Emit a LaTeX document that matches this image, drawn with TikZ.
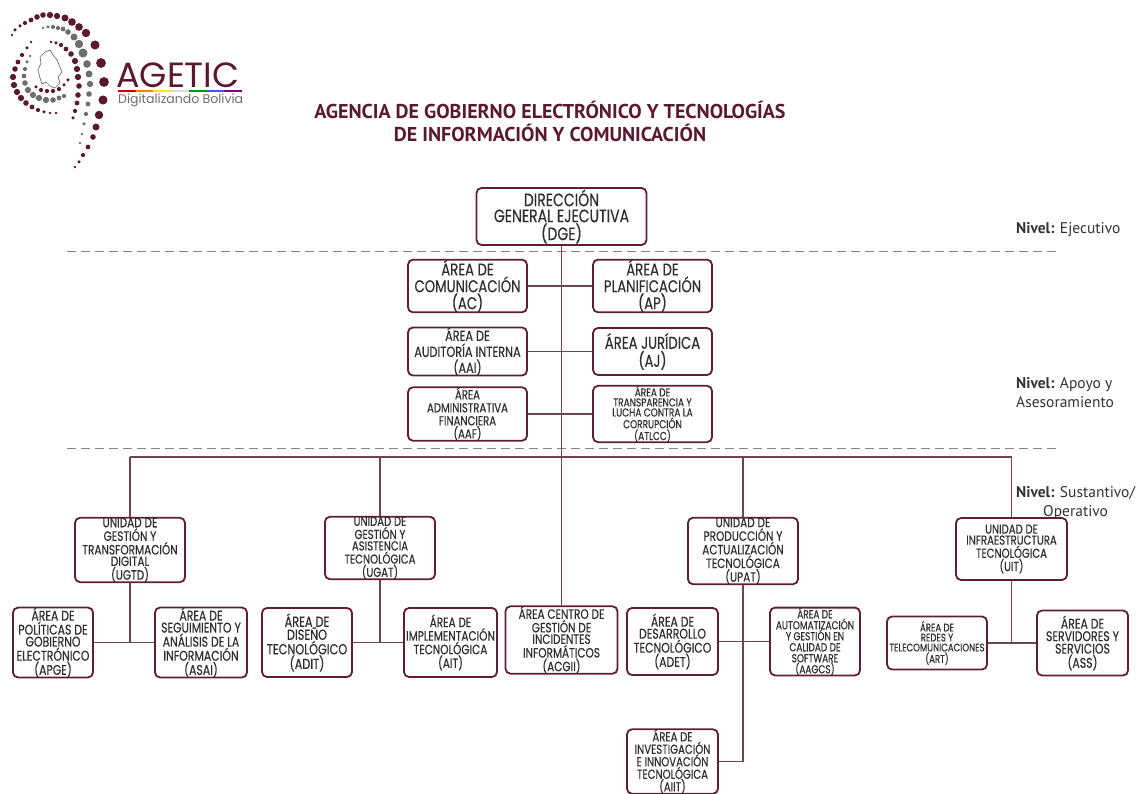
\documentclass[tikz,border=0pt]{standalone}
\usepackage{fontspec}
\setmainfont{PT Sans}
\newfontfamily\boxfont[FakeStretch=0.78, FakeBold=0.3]{Poppins}
\newfontfamily\logofont{Poppins}

\definecolor{agred}{HTML}{5B1A2C}
\definecolor{boxline}{HTML}{5E1F30}
\definecolor{linkcol}{HTML}{6F4350}
\definecolor{boxtext}{HTML}{2E2E2E}
\definecolor{dashgray}{HTML}{858585}
\definecolor{logogray}{HTML}{6E6E6E}
\definecolor{nivelcol}{HTML}{333333}

\begin{document}
\begin{tikzpicture}[x=1pt, y=-1pt,
    box/.style={draw=boxline, line width=1.8pt, rounded corners=5pt, fill=white,
                text=boxtext, align=center, inner sep=0pt},
    sz/.style 2 args={minimum width=#1pt, minimum height=#2pt},
    fs/.style 2 args={font=\boxfont\fontsize{#1}{#2}\selectfont},
    link/.style={draw=linkcol, line width=1.1pt},
    sep/.style={draw=dashgray, line width=1pt, dash pattern=on 9pt off 5pt},
    nivel/.style={text=nivelcol, inner sep=0pt, font=\fontsize{15.5}{19}\selectfont}]

    \useasboundingbox (0,0) rectangle (1140,794);
    \fill[white] (0,0) rectangle (1140,794);

    % Logo: dotted spiral
    \foreach \x/\y/\d in {12/35/2, 15/30/2.5, 20/26/2.5, 25/23/3, 31/20/3.5, 37/17/4, 43/15/4,
        50/15/4.5, 57/16/4.5, 65/18/5, 72/22/5.5, 79/27/5.5, 86/33/6, 95/45/6.5, 101/63/7,
        104/82/7, 103/100/6.5, 99/115/6, 96/127/5, 93/137/4, 88/147/3.5, 83/155/3, 79/162/2.5, 75/167/2}
        \fill[agred] (\x,\y) circle[radius=0.7*\d];
    \foreach \x/\y/\d in {43/28/2, 48/27/2.5, 53/27/3, 58/28/3, 63/29/3.5, 68/32/4, 74/37/5, 79/44/6,
        83/53/6.5, 87/64/5.5, 89/74/5, 90/84/4.5, 89/94/4, 88/104/3.5, 86/114/3, 84/124/2.5, 82/134/2, 80/143/2}
        \fill[logogray] (\x,\y) circle[radius=0.7*\d];
    \foreach \x/\y/\d in {51/42/2, 56/43/2.5, 61/45/3, 66/49/3.5, 71/54/4, 75/61/4.5, 77/69/4.5,
        78/77/4.5, 79/86/4, 78/95/4, 77/103/3.5, 75/111/3, 73/118/2.5}
        \fill[agred] (\x,\y) circle[radius=0.7*\d];
    \foreach \x/\y/\d in {31/42/2, 27/48/2.5, 22/55/3, 18/62/3.5, 15/69/4, 13/77/4.5, 14/85/4.5,
        17/92/4.5, 21/98/4.5, 26/103/4, 32/107/3.5, 38/110/3, 44/112/2.5, 50/113/2, 56/113/2}
        \fill[agred] (\x,\y) circle[radius=0.7*\d];
    \foreach \x/\y/\d in {30/56/2, 27/62/2.5, 25/69/3, 24/76/3.5, 25/83/4, 28/90/4.5, 33/95/4.5,
        39/98/4.5, 46/100/4.5, 53/100/4, 59/98/3.5, 64/96/3}
        \fill[logogray] (\x,\y) circle[radius=0.7*\d];
    \foreach \x/\y/\d in {36/87/2.5, 41/90/3, 47/91/3, 53/91/3, 59/89/3, 64/85/2.5, 68/80/2.5}
        \fill[agred] (\x,\y) circle[radius=0.7*\d];
    % map of Bolivia
    \draw[logogray, line width=0.7pt] (45,52) -- (50,50) -- (53,55) -- (57,60) -- (60,67) -- (62,72)
        -- (58,77) -- (60,83) -- (55,88) -- (50,86) -- (46,82) -- (42,84) -- (40,78) -- (38,70)
        -- (41,63) -- (40,57) -- cycle;

    % Logo text
    \node[anchor=base west, inner sep=0pt, text depth=0pt, text=agred, font=\logofont\fontsize{35}{35}\selectfont] (agetic) at (116,88) {AGETIC};
    \foreach \c [count=\i] in {red!80!black, orange, yellow!90!orange, gray!30, green!60!black, blue!70, violet}
        \fill[\c] (118+17.7*\i-17.7,90) rectangle (118+17.7*\i,92);
    \node[anchor=base west, inner sep=0pt, text height=9pt, text depth=2pt, text=logogray, font=\logofont\fontsize{12.5}{13}\selectfont] (slogan) at (118,104) {Digitalizando Bolivia};

    % Title
    \node[align=center, text=agred, font=\bfseries\fontsize{20}{23}\selectfont] (title) at (550,121.5)
        {AGENCIA DE GOBIERNO ELECTRÓNICO Y TECNOLOGÍAS\\DE INFORMACIÓN Y COMUNICACIÓN};

    % Level separators
    \draw[sep] (67,252) -- (1057,252);
    \draw[sep] (67,448) -- (1057,448);

    % Level labels
    \node[nivel, anchor=west] (lvEje) at (1016,230) {\textbf{Nivel:} Ejecutivo};
    \node[nivel, anchor=north west, align=left] (lvApo) at (1016,377) {\textbf{Nivel:} Apoyo y\\Asesoramiento};
    \node[nivel, anchor=north west, align=center] (lvSus) at (1016,486) {\textbf{Nivel:} Sustantivo/\\Operativo};

    % Executive level
    \node[box, sz={170}{57}, fs={18}{16}] (dge) at (561.5,216.5) {DIRECCIÓN\\GENERAL EJECUTIVA\\(DGE)};

    % Support areas
    \node[box, sz={119}{48}, fs={17}{14}] (ac) at (467.5,286) {ÁREA DE\\COMUNICACIÓN\\(AC)};
    \node[box, sz={119}{48}, fs={17}{14}] (ap) at (652.5,286) {ÁREA DE\\PLANIFICACIÓN\\(AP)};
    \node[box, sz={119}{47}, fs={14.5}{16}] (aai) at (467.5,351.5) {ÁREA DE\\AUDITORÍA INTERNA\\(AAI)};
    \node[box, sz={119}{47}, fs={17}{18}] (aj) at (652.5,351.5) {ÁREA JURÍDICA\\(AJ)};
    \node[box, sz={119}{52}, fs={13}{13}] (aaf) at (467.5,414) {ÁREA\\ADMINISTRATIVA\\FINANCIERA\\(AAF)};
    \node[box, sz={119}{52}, fs={11.5}{10}] (atlcc) at (652.5,414) {ÁREA DE\\TRANSPARENCIA Y\\LUCHA CONTRA LA\\CORRUPCIÓN\\(ATLCC)};

    % Units
    \node[box, sz={110}{60}, fs={13.5}{11.5}] (ugtd) at (130,550) {UNIDAD DE\\GESTIÓN Y\\TRANSFORMACIÓN\\DIGITAL\\(UGTD)};
    \node[box, sz={110}{60}, fs={13}{11.5}] (ugat) at (380,548) {UNIDAD DE\\GESTIÓN Y\\ASISTENCIA\\TECNOLÓGICA\\(UGAT)};
    \node[box, sz={110}{62}, fs={13.5}{11}] (upat) at (743,551) {UNIDAD DE\\PRODUCCIÓN Y\\ACTUALIZACIÓN\\TECNOLÓGICA\\(UPAT)};
    \node[box, sz={111}{62}, fs={13}{11}] (uit) at (1011.5,549) {UNIDAD DE\\INFRAESTRUCTURA\\TECNOLÓGICA\\(UIT)};

    % Areas under the units
    \node[box, sz={80}{69}, fs={14}{12}] (apge) at (53,642.5) {ÁREA DE\\POLÍTICAS DE\\GOBIERNO\\ELECTRÓNICO\\(APGE)};
    \node[box, sz={92}{69}, fs={14}{12}] (asai) at (201,642.5) {ÁREA DE\\SEGUIMIENTO Y\\ANÁLISIS DE LA\\INFORMACIÓN\\(ASAI)};
    \node[box, sz={90}{69}, fs={14.5}{13}] (adit) at (307,642.5) {ÁREA DE\\DISEÑO\\TECNOLÓGICO\\(ADIT)};
    \node[box, sz={93}{69}, fs={13.5}{12.5}] (ait) at (450.5,642.5) {ÁREA DE\\IMPLEMENTACIÓN\\TECNOLÓGICA\\(AIT)};
    \node[box, sz={112}{64}, fs={13.5}{11.5}] (acgii) at (561.5,640) {ÁREA CENTRO DE\\GESTIÓN DE\\INCIDENTES\\INFORMÁTICOS\\(ACGII)};
    \node[box, sz={91}{67}, fs={14}{12}] (adet) at (672.5,641.5) {ÁREA DE\\DESARROLLO\\TECNOLÓGICO\\(ADET)};
    \node[box, sz={90}{67}, fs={11.5}{11}] (aagcs) at (815,641.5) {ÁREA DE\\AUTOMATIZACIÓN\\Y GESTIÓN EN\\CALIDAD DE\\SOFTWARE\\(AAGCS)};
    \node[box, sz={91}{63}, fs={13}{12.5}] (aiit) at (672.5,761.5) {ÁREA DE\\INVESTIGACIÓN\\E INNOVACIÓN\\TECNOLÓGICA\\(AIIT)};
    \node[box, sz={100}{53}, fs={11}{10}] (art) at (937,643) {ÁREA DE\\REDES Y\\TELECOMUNICACIONES\\(ART)};
    \node[box, sz={91}{65}, fs={14}{12.5}] (ass) at (1082.5,643) {ÁREA DE\\SERVIDORES Y\\SERVICIOS\\(ASS)};

    % Main trunk and staff links
    \draw[link] (dge.south) -- (acgii.north);
    \draw[link] (ac.east) -- (ap.west);
    \draw[link] (aai.east) -- (aj.west);
    \draw[link] (aaf.east) -- (atlcc.west);

    % Bus to the units
    \coordinate (busL) at (130,457);
    \coordinate (busR) at (1011.5,457);
    \draw[link] (busL) -- (busR);
    \draw[link] (busL) -- (ugtd.north);
    \draw[link] (ugat.north |- busL) -- (ugat.north);
    \draw[link] (upat.north |- busL) -- (upat.north);
    \draw[link] (busR) -- (uit.north);

    % Unit to area links
    \draw[link] (ugtd.south) -- (ugtd.south |- apge.east);
    \draw[link] (apge.east) -- (asai.west);
    \draw[link] (ugat.south) -- (ugat.south |- adit.east);
    \draw[link] (adit.east) -- (ait.west);
    \draw[link] (upat.south) |- (aiit.east);
    \draw[link] (adet.east) -- (aagcs.west);
    \draw[link] (uit.south) -- (uit.south |- art.east);
    \draw[link] (art.east) -- (ass.west);

\end{tikzpicture}
\end{document}
